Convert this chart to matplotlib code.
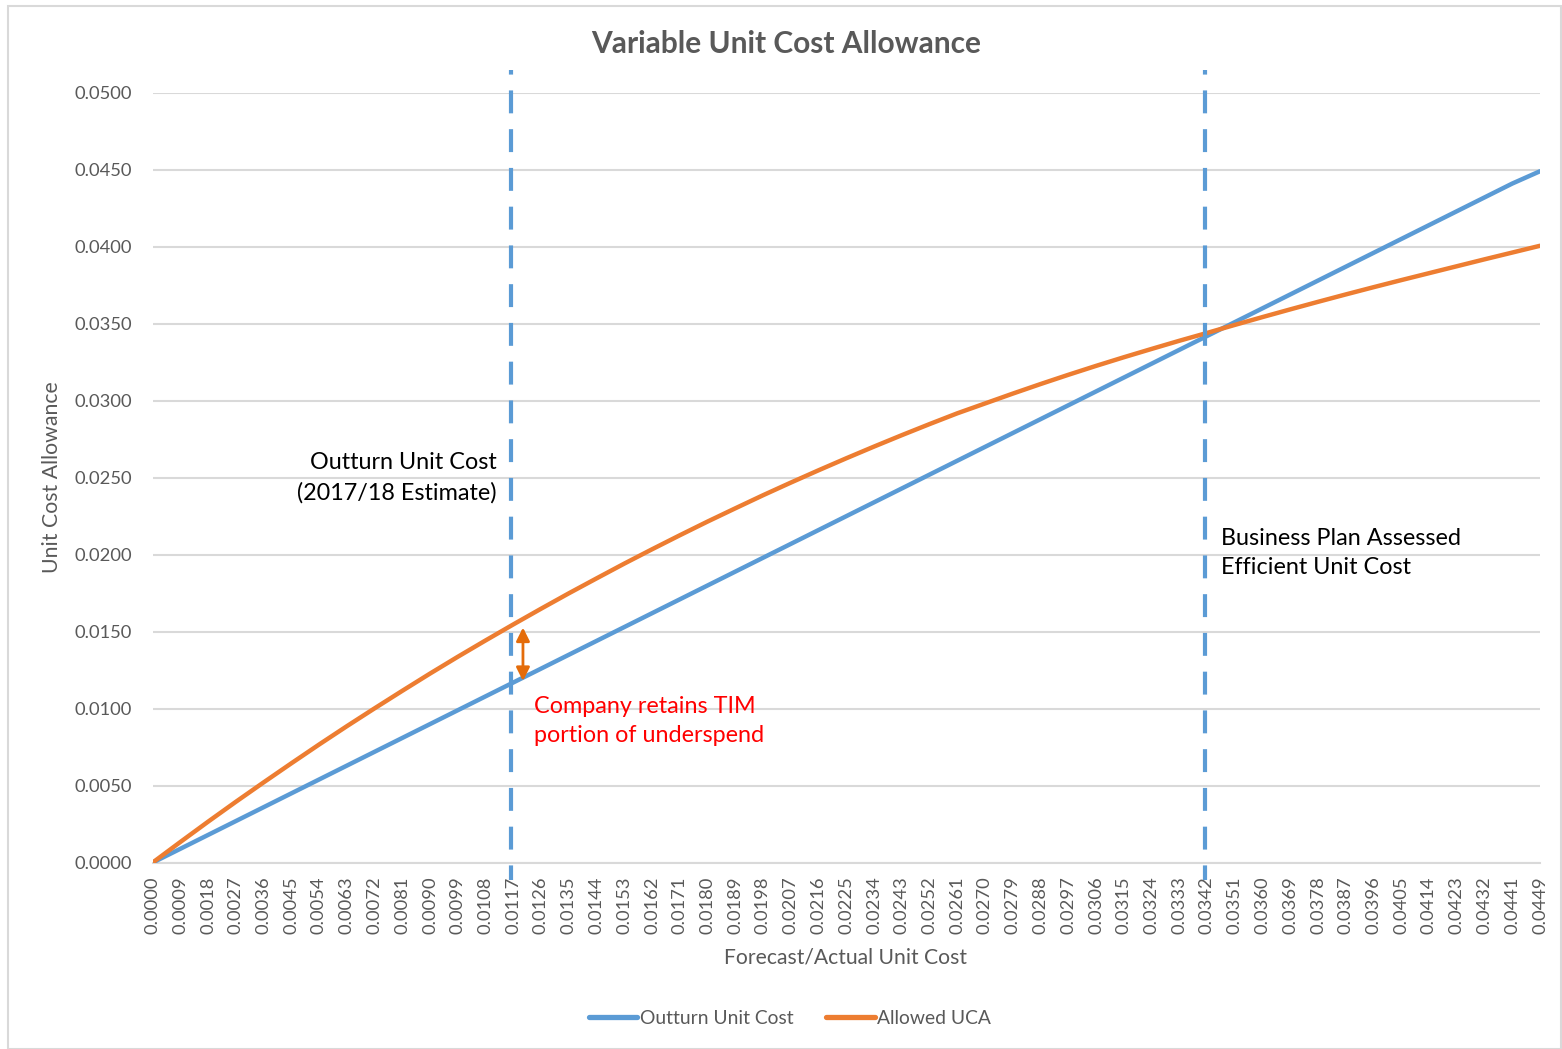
import matplotlib
matplotlib.use("Agg")
import matplotlib.pyplot as plt
from matplotlib.patches import Rectangle

# category labels shown on the x axis (every 9th category of the sheet)
x_labels = ["0.0000", "0.0009", "0.0018", "0.0027", "0.0036", "0.0045", "0.0054", "0.0063",
            "0.0072", "0.0081", "0.0090", "0.0099", "0.0108", "0.0117", "0.0126", "0.0135",
            "0.0144", "0.0153", "0.0162", "0.0171", "0.0180", "0.0189", "0.0198", "0.0207",
            "0.0216", "0.0225", "0.0234", "0.0243", "0.0252", "0.0261", "0.0270", "0.0279",
            "0.0288", "0.0297", "0.0306", "0.0315", "0.0324", "0.0333", "0.0342", "0.0351",
            "0.0360", "0.0369", "0.0378", "0.0387", "0.0396", "0.0405", "0.0414", "0.0423",
            "0.0432", "0.0441", "0.0449"]

outturn = [0.0000, 0.0009, 0.0018, 0.0027, 0.0036, 0.0045, 0.0054, 0.0063,
           0.0072, 0.0081, 0.0090, 0.0099, 0.0108, 0.0117, 0.0126, 0.0135,
           0.0144, 0.0153, 0.0162, 0.0171, 0.0180, 0.0189, 0.0198, 0.0207,
           0.0216, 0.0225, 0.0234, 0.0243, 0.0252, 0.0261, 0.0270, 0.0279,
           0.0288, 0.0297, 0.0306, 0.0315, 0.0324, 0.0333, 0.0342, 0.0351,
           0.0360, 0.0369, 0.0378, 0.0387, 0.0396, 0.0405, 0.0414, 0.0423,
           0.0432, 0.0441, 0.0449]

allowed_uca = [0.00000, 0.00134, 0.00266, 0.00395, 0.00521, 0.00645, 0.00767, 0.00886,
               0.01002, 0.01116, 0.01228, 0.01337, 0.01443, 0.01547, 0.01649, 0.01749,
               0.01846, 0.01942, 0.02035, 0.02126, 0.02215, 0.02301, 0.02386, 0.02468,
               0.02548, 0.02626, 0.02702, 0.02776, 0.02848, 0.02918, 0.02982, 0.03046,
               0.03108, 0.03168, 0.03226, 0.03282, 0.03336, 0.03389, 0.03440, 0.03492,
               0.03543, 0.03593, 0.03642, 0.03690, 0.03737, 0.03783, 0.03828, 0.03873,
               0.03918, 0.03962, 0.04006]

y_ticks = [0.0, 0.005, 0.01, 0.015, 0.02, 0.025, 0.03, 0.035, 0.04, 0.045, 0.05]

outturn_estimate = "0.0117"
efficient_cost = "0.0342"

BLUE = "#5B9BD5"
ORANGE = "#ED7D31"
GREY = "#595959"
GRID = "#D9D9D9"

plt.rcParams["font.family"] = ["Lato", "DejaVu Sans"]

fig = plt.figure(figsize=(15.62, 10.49), dpi=100)
fig.patches.append(Rectangle((8 / 1562, 0), 1553 / 1562, 1 - 6 / 1049, transform=fig.transFigure,
                             fill=False, edgecolor=GRID, linewidth=1.5))

ax = fig.add_axes([152.5 / 1562, 1 - 862.7 / 1049, (1540 - 152.5) / 1562, (862.7 - 92.7) / 1049])

idx = list(range(len(x_labels)))
ax.plot(idx, outturn, color=BLUE, linewidth=3.2, solid_capstyle="round", label="Outturn Unit Cost", zorder=3)
ax.plot(idx, allowed_uca, color=ORANGE, linewidth=3.2, solid_capstyle="round", label="Allowed UCA", zorder=3)

ax.set_xlim(0, len(x_labels) - 1)
ax.set_ylim(0, 0.05)
ax.set_yticks(y_ticks)
ax.set_yticklabels([f"{v:.4f}" for v in y_ticks])
ax.set_xticks(idx)
ax.set_xticklabels(x_labels, rotation=90)
ax.tick_params(axis="both", length=0, labelsize=13.2, labelcolor=GREY)
ax.tick_params(axis="y", pad=15)
ax.tick_params(axis="x", pad=10)
ax.yaxis.grid(True, color=GRID, linewidth=1.5)
ax.set_axisbelow(True)
for side in ["top", "right", "left"]:
    ax.spines[side].set_visible(False)
ax.spines["bottom"].set_color(GRID)
ax.spines["bottom"].set_linewidth(1.5)

# vertical marker lines
i_est = x_labels.index(outturn_estimate)
i_eff = x_labels.index(efficient_cost)
for i in [i_est, i_eff]:
    ax.axvline(i - 0.07, ymin=-0.022, ymax=1.03, color=BLUE, linewidth=3, linestyle=(2, (5.5, 3.8)),
               clip_on=False, zorder=4)

# arrow between the two series at the outturn estimate
ax.annotate("", xy=(i_est + 0.35, allowed_uca[i_est] - 0.0002), xytext=(i_est + 0.35, outturn[i_est] + 0.0001),
            arrowprops=dict(arrowstyle="<|-|>", color="#E46C0A", linewidth=2, mutation_scale=20,
                            shrinkA=0, shrinkB=0), zorder=5)

note_kw = dict(fontsize=16.8, linespacing=1.5)
ax.text(i_est - 0.6, 0.0250, "Outturn Unit Cost\n(2017/18 Estimate)", ha="right", va="center",
        color="black", **note_kw)
ax.text(i_est + 0.75, 0.0092, "Company retains TIM\nportion of underspend", ha="left", va="center",
        color="#FF0000", **note_kw)
ax.text(i_eff + 0.5, 0.0201, "Business Plan Assessed\nEfficient Unit Cost", ha="left", va="center",
        color="black", **note_kw)

fig.text(786 / 1562, 1 - 44 / 1049, "Variable Unit Cost Allowance", ha="center", va="center",
         fontsize=21.5, fontweight="bold", color=GREY)
fig.text(52 / 1562, 1 - 477 / 1049, "Unit Cost Allowance", rotation=90, ha="center", va="center",
         fontsize=15.3, color=GREY)
fig.text(845 / 1562, 1 - 957 / 1049, "Forecast/Actual Unit Cost", ha="center", va="center",
         fontsize=15.2, color=GREY)

leg = fig.legend(loc="center", bbox_to_anchor=(790 / 1562, 1 - 1018 / 1049), ncol=2, frameon=False,
                 fontsize=13.9, handlelength=2.5, handletextpad=0.15, columnspacing=1.7)
for t in leg.get_texts():
    t.set_color(GREY)
for h in leg.get_lines():
    h.set_linewidth(3.8)

fig.savefig("out.png", dpi=100)
